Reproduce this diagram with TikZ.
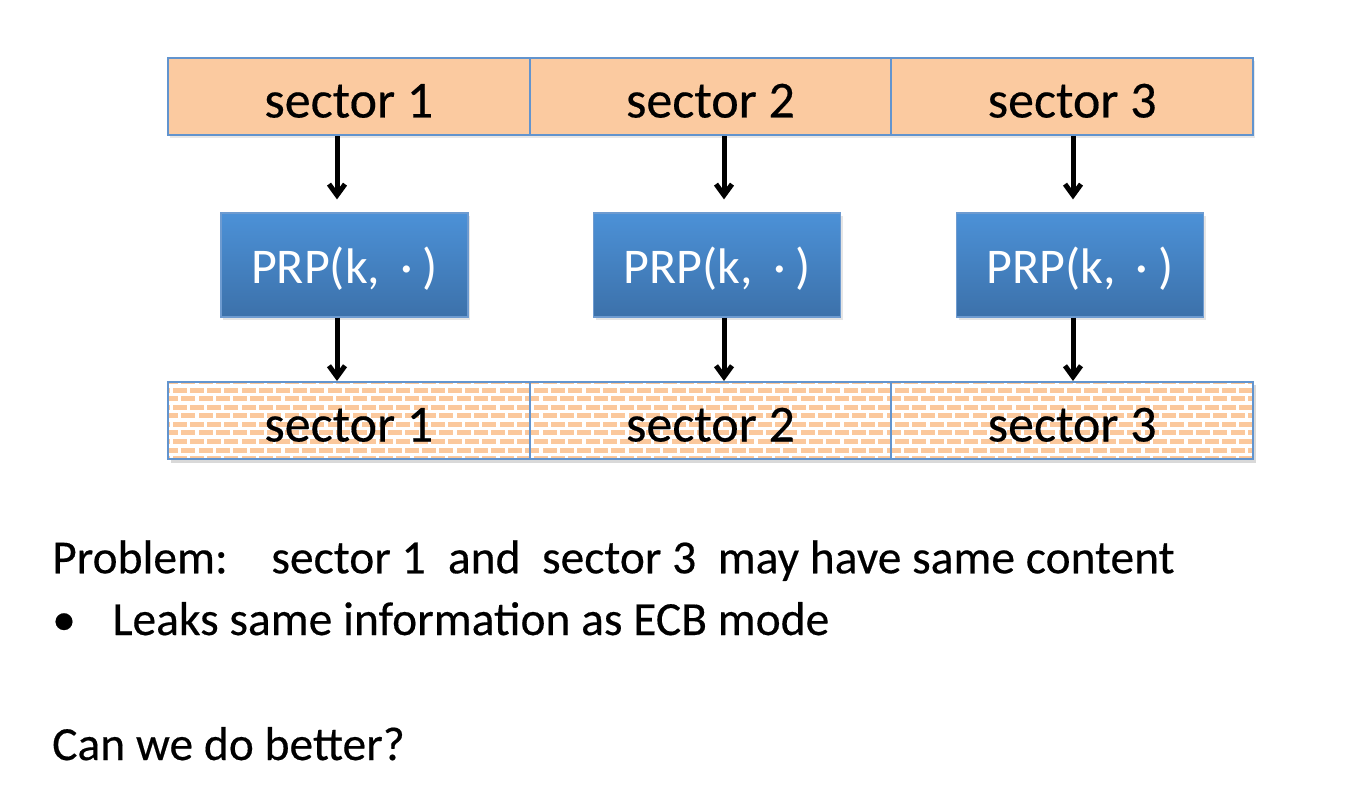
\documentclass[tikz,border=0pt]{standalone}
\usepackage{fontspec}
\setmainfont{Carlito}
\newfontfamily\heavy{Carlito}[FakeBold=0.35]
\usetikzlibrary{arrows.meta,shadows}
\definecolor{sectfill}{RGB}{251,202,160}
\definecolor{sectline}{RGB}{98,148,206}
\definecolor{brick}{RGB}{251,200,156}
\definecolor{prptop}{RGB}{76,145,215}
\definecolor{prpbot}{RGB}{60,113,170}
\definecolor{prpline}{RGB}{110,155,208}
\begin{document}
\begin{tikzpicture}[x=1pt,y=-1pt,
  sectbox/.style={draw=sectline, line width=2pt, minimum width=361.67pt, minimum height=77pt,
    inner sep=0pt, text height=42pt, text depth=0pt, font=\heavy\fontsize{52}{60}\selectfont},
  topsect/.style={sectbox, fill=sectfill,
    drop shadow={shadow xshift=2pt, shadow yshift=-3pt, opacity=0.18}},
  encsect/.style={sectbox},
  prpbox/.style={draw=prpline, line width=1.2pt, top color=prptop, bottom color=prpbot,
    minimum width=247pt, minimum height=104pt, inner sep=0pt, text=white,
    text height=37.6pt, text depth=0pt, font=\fontsize{50}{58}\selectfont,
    drop shadow={shadow xshift=2pt, shadow yshift=-3pt, opacity=0.2}},
  flow/.style={line width=5pt, -{Straight Barb[length=11pt,width=16pt,line width=5pt]}},
  body/.style={anchor=base west, inner sep=0pt, font=\heavy\fontsize{47.5}{56}\selectfont}]
\useasboundingbox (0,0) rectangle (1372,805);
\fill[white] (0,0) rectangle (1372,805);

% top sectors
\node[topsect] (t1) at (348.83,96.5) {sector 1};
\node[topsect] (t2) at (710.5,96.5) {sector 2};
\node[topsect] (t3) at (1072.17,96.5) {sector 3};

% PRP boxes
\node[prpbox] (p1) at (344.5,265) {PRP(k,\hspace{20pt}·\hspace{10pt})};
\node[prpbox] (p2) at (717.3,265) {PRP(k,\hspace{20pt}·\hspace{10pt})};
\node[prpbox] (p3) at (1080,265) {PRP(k,\hspace{20pt}·\hspace{10pt})};

% brick-patterned strip
\coordinate (bl) at (168,382);
\coordinate (br) at (1253,459);
\fill[black, opacity=0.15] (171,385) rectangle (1256,463);
\fill[white] (bl) rectangle (br);
\begin{scope}
  \clip (bl) rectangle (br);
  \foreach \r in {-1,...,8} {
    \foreach \c in {-1,...,63} {
      \fill[brick] ({172.7+mod(\r+2,2)*8.6+\c*17.2},{387.7+\r*8.55}) rectangle ++(14,5);
    }
  }
\end{scope}
\node[encsect] (b1) at (348.83,420.5) {sector 1};
\node[encsect] (b2) at (710.5,420.5) {sector 2};
\node[encsect] (b3) at (1072.17,420.5) {sector 3};

% arrows
\coordinate (a1) at (337,0);
\coordinate (a2) at (724,0);
\coordinate (a3) at (1073,0);
\draw[flow] (t1.south -| a1) -- ([yshift=13pt]p1.north -| a1);
\draw[flow] (t2.south -| a2) -- ([yshift=13pt]p2.north -| a2);
\draw[flow] (t3.south -| a3) -- ([yshift=13pt]p3.north -| a3);
\draw[flow] (p1.south -| a1) -- (b1.north -| a1);
\draw[flow] (p2.south -| a2) -- (b2.north -| a2);
\draw[flow] (p3.south -| a3) -- (b3.north -| a3);

% text
\node[body] (prob) at (52,573.3) {Problem:\hspace{43.7pt}sector 1\hspace{22.3pt}and\hspace{21.5pt}sector 3\hspace{21.5pt}may have same content};
\node[body] (leak) at (52,635) {\makebox[60.4pt][l]{•}Leaks same information as ECB mode};
\node[body] (better) at (52,760) {Can we do better?};
\end{tikzpicture}
\end{document}
